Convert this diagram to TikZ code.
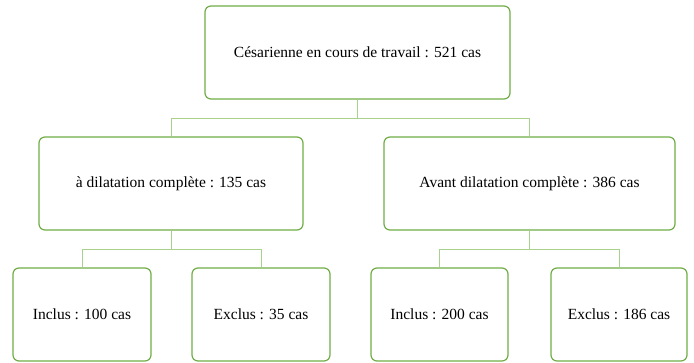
\documentclass[tikz,border=0pt]{standalone}
\usepackage{fontspec}
\setmainfont{Liberation Serif}
\definecolor{boxgreen}{RGB}{112, 173, 71}
\definecolor{linkgreen}{RGB}{169, 209, 142}

\begin{document}
\begin{tikzpicture}[x=1pt, y=-1pt,
	box/.style={draw=boxgreen, line width=1.2pt, rounded corners=6pt, minimum height=93pt, font=\fontsize{15.5}{18}\selectfont},
	link/.style={draw=linkgreen, line width=0.9pt}]
	\useasboundingbox (0,0) rectangle (694,362);
	% niveaux
	\node[box, minimum width=305pt] (total) at (357.5,52.5) {Césarienne en cours de travail : 521 cas};
	\node[box, minimum width=264pt] (complete) at (171,183.5) {à dilatation complète : 135 cas};
	\node[box, minimum width=291pt] (avant) at (529.5,183.5) {Avant dilatation complète : 386 cas};
	\node[box, minimum width=138pt] (inclA) at (82,314.5) {Inclus : 100 cas};
	\node[box, minimum width=138pt] (exclA) at (261,314.5) {Exclus : 35 cas};
	\node[box, minimum width=137pt] (inclB) at (439.5,314.5) {Inclus : 200 cas};
	\node[box, minimum width=136pt] (exclB) at (619,314.5) {Exclus : 186 cas};
	% liaisons
	\coordinate (j0) at (357.5,118);
	\coordinate (j1) at (171,249);
	\coordinate (j2) at (529.5,249);
	\draw[link] (total.south) -- (j0);
	\draw[link] (j0) -| (complete.north);
	\draw[link] (j0) -| (avant.north);
	\draw[link] (complete.south) -- (j1);
	\draw[link] (j1) -| (inclA.north);
	\draw[link] (j1) -| (exclA.north);
	\draw[link] (avant.south) -- (j2);
	\draw[link] (j2) -| (inclB.north);
	\draw[link] (j2) -| (exclB.north);
\end{tikzpicture}
\end{document}
